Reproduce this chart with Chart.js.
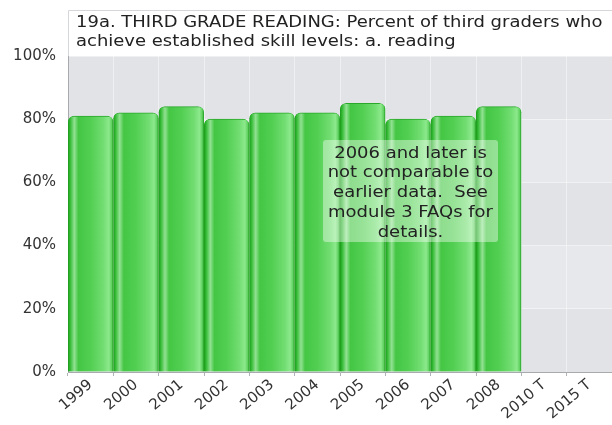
<!DOCTYPE html>
<html>
<head>
<meta charset="utf-8">
<script src="https://cdn.jsdelivr.net/npm/chart.js@4"></script>
<style>
html,body{margin:0;padding:0;background:#fff;}
#wrap{width:612px;height:425px;position:relative;}
</style>
</head>
<body>
<div id="wrap"><canvas id="c" width="612" height="425"></canvas></div>
<script>
const categories = ["1999","2000","2001","2002","2003","2004","2005","2006","2007","2008","2010 T","2015 T"];
const readingValues = [81, 82, 84, 80, 82, 82, 85, 80, 81, 84, null, null];
const titleLines = ["19a. THIRD GRADE READING: Percent of third graders who", "achieve established skill levels: a. reading"];
const noteLines = ["2006 and later is", "not comparable to", "earlier data.  See", "module 3 FAQs for", "details."];
const FONT = "'DejaVu Sans', Verdana, sans-serif";

function barGradient(ctx) {
  const chart = ctx.chart;
  if (!chart.chartArea) return '#4ccc4c';
  const xs = chart.scales.x;
  const c = xs.getPixelForValue(ctx.dataIndex);
  const half = (xs.getPixelForValue(1) - xs.getPixelForValue(0)) / 2;
  const g = chart.ctx.createLinearGradient(c - half, 0, c + half, 0);
  g.addColorStop(0.00, '#1a9a1a');
  g.addColorStop(0.05, '#36bc36');
  g.addColorStop(0.14, '#92e292');
  g.addColorStop(0.23, '#44c644');
  g.addColorStop(0.50, '#52cf52');
  g.addColorStop(0.78, '#72dd72');
  g.addColorStop(0.90, '#8ce98c');
  g.addColorStop(0.96, '#62d262');
  g.addColorStop(1.00, '#1c9c1c');
  return g;
}

function stretchedText(ctx, text, x, y, sx, align) {
  ctx.save();
  ctx.translate(x, y);
  ctx.scale(sx, 1);
  ctx.textAlign = align;
  ctx.fillText(text, 0, 0);
  ctx.restore();
}

const bgPlugin = {
  id: 'bg',
  beforeDraw(chart) {
    const {ctx, chartArea: a} = chart;
    const ys = chart.scales.y;
    ctx.save();
    ctx.fillStyle = '#e1e3e7';
    ctx.fillRect(a.left, a.top, a.right - a.left, a.bottom - a.top);
    ctx.fillStyle = '#e6e8eb';
    for (let v = 0; v <= 40; v += 40) {
      const y1 = ys.getPixelForValue(v + 40), y2 = ys.getPixelForValue(v + 20);
      ctx.fillRect(a.left, y1, a.right - a.left, y2 - y1);
    }
    ctx.restore();
  },
  afterDraw(chart) {
    const {ctx, chartArea: a} = chart;
    ctx.save();
    // title box
    ctx.fillStyle = '#ffffff';
    ctx.fillRect(a.left, 10, chart.width - a.left, a.top - 10);
    ctx.strokeStyle = '#d4d6da';
    ctx.lineWidth = 1;
    ctx.beginPath();
    ctx.moveTo(a.left + 0.5, a.top);
    ctx.lineTo(a.left + 0.5, 10.5);
    ctx.lineTo(chart.width, 10.5);
    ctx.stroke();
    ctx.fillStyle = '#222';
    ctx.font = '15.5px ' + FONT;
    ctx.textBaseline = 'middle';
    stretchedText(ctx, titleLines[0], a.left + 8, 23, 1.16, 'left');
    stretchedText(ctx, titleLines[1], a.left + 8, 42, 1.16, 'left');
    // note box
    const bx = 323, by = 140, bw = 175, bh = 102;
    ctx.fillStyle = 'rgba(255,255,255,0.4)';
    ctx.beginPath();
    ctx.roundRect(bx, by, bw, bh, 3);
    ctx.fill();
    ctx.fillStyle = '#222';
    ctx.font = '15.5px ' + FONT;
    noteLines.forEach((t, i) => stretchedText(ctx, t, bx + bw / 2, 153.5 + i * 19.8, 1.16, 'center'));
    ctx.restore();
  }
};

new Chart(document.getElementById('c'), {
  type: 'bar',
  data: {
    labels: categories,
    datasets: [{
      data: readingValues,
      backgroundColor: barGradient,
      borderColor: '#2aa82a',
      borderWidth: {top: 1, left: 0, right: 0, bottom: 0},
      borderRadius: {topLeft: 6, topRight: 6},
      borderSkipped: 'bottom',
      barPercentage: 1.0,
      categoryPercentage: 1.0
    }]
  },
  options: {
    responsive: false,
    animation: false,
    layout: {padding: {top: 56, right: 0, left: 0, bottom: 0}},
    plugins: {legend: {display: false}, tooltip: {enabled: false}, title: {display: false}},
    scales: {
      x: {
        grid: {color: 'rgba(255,255,255,0.45)', offset: true, tickLength: 4, tickColor: '#b0b2b6'},
        border: {color: '#a8aaae'},
        ticks: {color: '#333', font: {family: FONT, size: 15}, maxRotation: 40, minRotation: 40, padding: 0, autoSkip: false},
        afterFit(s) { s.height = 53; }
      },
      y: {
        min: 0, max: 100,
        grid: {color: 'rgba(255,255,255,0.45)', tickLength: 0, drawTicks: false},
        border: {color: '#a8aaae'},
        ticks: {stepSize: 20, color: '#333', font: {family: FONT, size: 15}, padding: 12, callback: v => v + '%'},
        afterFit(s) { s.width = 68; }
      }
    }
  },
  plugins: [bgPlugin]
});
</script>
</body>
</html>
